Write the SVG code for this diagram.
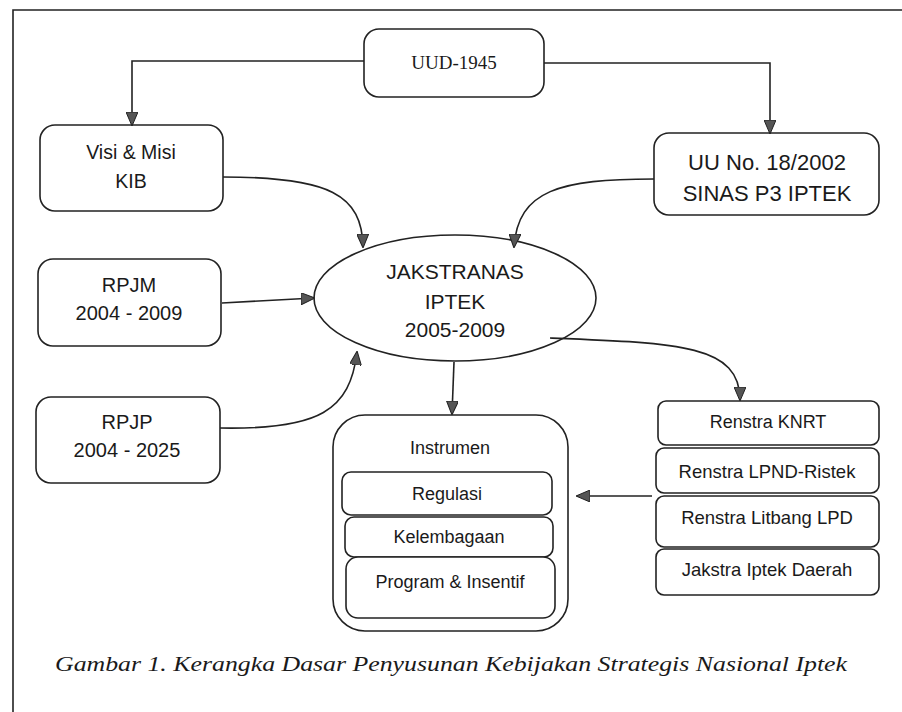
<svg xmlns="http://www.w3.org/2000/svg" width="902" height="712" viewBox="0 0 902 712">
<defs>
<marker id="ah" viewBox="0 0 14 12" refX="13" refY="6" markerWidth="14" markerHeight="12" orient="auto" markerUnits="userSpaceOnUse"><path d="M0,0 L14,6 L0,12 z" fill="#555" stroke="#222" stroke-width="1"/></marker>
<style>
.box{fill:#fff;stroke:#222;stroke-width:1.6}
.t{font-family:"Liberation Sans",Arial,sans-serif;fill:#1a1a1a;text-anchor:middle}
.c{fill:none;stroke:#222;stroke-width:1.6;marker-end:url(#ah)}
</style>
</defs>
<rect width="902" height="712" fill="#fff"/>
<path d="M13,712 V10 H902" fill="none" stroke="#222" stroke-width="1.6"/>

<g id="uud"><rect class="box" x="364" y="29" width="180" height="68" rx="15"/><text x="454" y="69" font-family="Liberation Serif,serif" font-size="19" text-anchor="middle" fill="#1a1a1a">UUD-1945</text></g>
<g id="visi"><rect class="box" x="40" y="125" width="183" height="86" rx="15"/><text class="t" font-size="19.5" x="131" y="159">Visi &amp; Misi</text><text class="t" font-size="19.5" x="131" y="188">KIB</text></g>
<g id="uu"><rect class="box" x="654" y="133" width="225" height="82" rx="15"/><text class="t" font-size="22" x="767" y="170">UU No. 18/2002</text><text class="t" font-size="22" x="767" y="201">SINAS P3 IPTEK</text></g>
<g id="rpjm"><rect class="box" x="38" y="259" width="183" height="87" rx="15"/><text class="t" font-size="20" x="129" y="292">RPJM</text><text class="t" font-size="20" x="129" y="320">2004 - 2009</text></g>
<g id="rpjp"><rect class="box" x="36" y="397" width="184" height="86" rx="15"/><text class="t" font-size="20" x="127" y="429">RPJP</text><text class="t" font-size="20" x="127" y="457">2004 - 2025</text></g>
<g id="jakstranas"><ellipse class="box" cx="455" cy="298" rx="141" ry="63"/><text class="t" font-size="21" x="455" y="279">JAKSTRANAS</text><text class="t" font-size="21" x="455" y="309">IPTEK</text><text class="t" font-size="21" x="455" y="337">2005-2009</text></g>
<g id="instrumen"><rect class="box" x="333" y="415" width="235" height="216" rx="32"/><text class="t" font-size="18" x="450" y="454">Instrumen</text>
<rect class="box" x="342" y="472" width="210" height="43" rx="9"/><text class="t" font-size="18" x="447" y="500">Regulasi</text>
<rect class="box" x="345" y="517" width="208" height="40" rx="9"/><text class="t" font-size="18" x="449" y="543">Kelembagaan</text>
<rect class="box" x="346" y="557" width="209" height="61" rx="12"/><text class="t" font-size="18" x="450" y="588">Program &amp; Insentif</text></g>
<g id="renstra-knrt"><rect class="box" x="658" y="401" width="221" height="44" rx="8"/><text class="t" font-size="18" x="768" y="428">Renstra KNRT</text></g>
<g id="renstra-lpnd"><rect class="box" x="656" y="448" width="223" height="45" rx="8"/><text class="t" font-size="18.5" x="767" y="478">Renstra LPND-Ristek</text></g>
<g id="renstra-litbang"><rect class="box" x="656" y="496" width="223" height="51" rx="8"/><text class="t" font-size="18.5" x="767" y="524">Renstra Litbang LPD</text></g>
<g id="jakstra-daerah"><rect class="box" x="656" y="549" width="223" height="46" rx="8"/><text class="t" font-size="18.5" x="767" y="576">Jakstra Iptek Daerah</text></g>

<g id="connectors">
<path class="c" d="M364,61 H132 V125"/>
<path class="c" d="M544,63 H770 V133"/>
<path class="c" d="M223,177 C330,177 362,195 363,247"/>
<path class="c" d="M654,179 C560,179 518,190 514,247"/>
<path class="c" d="M222,303 L314,298"/>
<path class="c" d="M220,428 C320,430 350,410 357,352"/>
<path class="c" d="M454,362 L452,414"/>
<path class="c" d="M550,338 C680,343 740,345 740,400"/>
<path class="c" d="M652,496 L577,496"/>
</g>

<text x="55" y="671" font-family="Liberation Serif,serif" font-style="italic" font-size="22" fill="#1a1a1a" textLength="792" lengthAdjust="spacingAndGlyphs">Gambar 1. Kerangka Dasar Penyusunan Kebijakan Strategis Nasional Iptek</text>
</svg>
